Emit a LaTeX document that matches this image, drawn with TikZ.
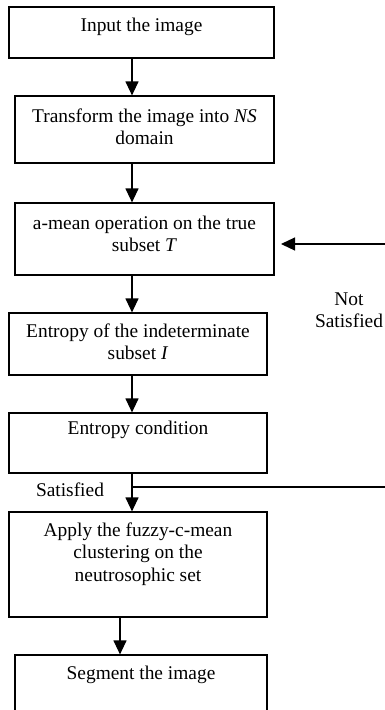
\documentclass[tikz,border=0pt]{standalone}
\usepackage{fontspec}
\setmainfont{Liberation Serif}
\usetikzlibrary{arrows.meta}

\begin{document}
\begin{tikzpicture}%
        [x=1pt, y=-1pt,
        every node/.style={font=\fontsize{19.4}{22.5}\selectfont},
        stepbox/.style={draw, line width=1.2pt, inner sep=0pt},
        steptext/.style={inner sep=0pt, align=center},
        flow/.style={line width=1.2pt, -{Triangle[length=14pt,width=13pt]}},
        back/.style={line width=1.2pt}]
    %% Page frame
    \useasboundingbox (0,0) rectangle (385,710);
    %% Axis of the main flow
    \coordinate (axis) at (132,0);
    %%
    %% Boxes
    \node[stepbox, minimum width=265, minimum height=51] (input) at (141.5,32.5) {};
    \node[stepbox, minimum width=259, minimum height=67] (transform) at (144.5,129.5) {};
    \node[stepbox, minimum width=259, minimum height=72] (amean) at (144.5,239) {};
    \node[stepbox, minimum width=258, minimum height=62] (entropy) at (138,344) {};
    \node[stepbox, minimum width=258, minimum height=60] (cond) at (138,443) {};
    \node[stepbox, minimum width=258, minimum height=105] (fcm) at (138,564.5) {};
    \node[stepbox, minimum width=252, minimum height=75] (segment) at (141,692.5) {};
    %%
    %% Texts
    \node[steptext] (inputtxt) at (141.5,27) {Input the image};
    \node[steptext] (transformtxt) at (144.5,127) {Transform the image into \textit{NS}\\domain};
    \node[steptext] (ameantxt) at (144.5,234) {a-mean operation on the true\\subset \textit{T}};
    \node[steptext] (entropytxt) at (138,342) {Entropy of the indeterminate\\subset \textit{I}};
    \node[steptext] (condtxt) at (138,430) {Entropy condition};
    \node[steptext] (fcmtxt) at (138,554) {Apply the fuzzy-c-mean\\clustering on the\\neutrosophic set};
    \node[steptext] (segmenttxt) at (141,675) {Segment the image};
    \node[steptext] (sat) at (70,490) {Satisfied};
    \node[steptext] (notsat) at (349,310) {Not\\Satisfied};
    %%
    %% Arrows
    \draw[flow] (input.south -| axis) -- (transform.north -| axis);
    \draw[flow] (transform.south -| axis) -- (amean.north -| axis);
    \draw[flow] (amean.south -| axis) -- (entropy.north -| axis);
    \draw[flow] (entropy.south -| axis) -- (cond.north -| axis);
    \draw[flow] (cond.south -| axis) -- (fcm.north -| axis);
    \draw[flow] ([xshift=-12pt]fcm.south -| axis) -- ([xshift=-12pt]segment.north -| axis);
    %%
    %% Loop back
    \coordinate (split) at (132,487);
    \coordinate (far) at (392,487);
    \coordinate (back top) at (392,244);
    \coordinate (back end) at (281,244);
    \draw[back] (split) -- (far) -- (back top);
    \draw[flow] (back top) -- (back end);
\end{tikzpicture}
\end{document}
